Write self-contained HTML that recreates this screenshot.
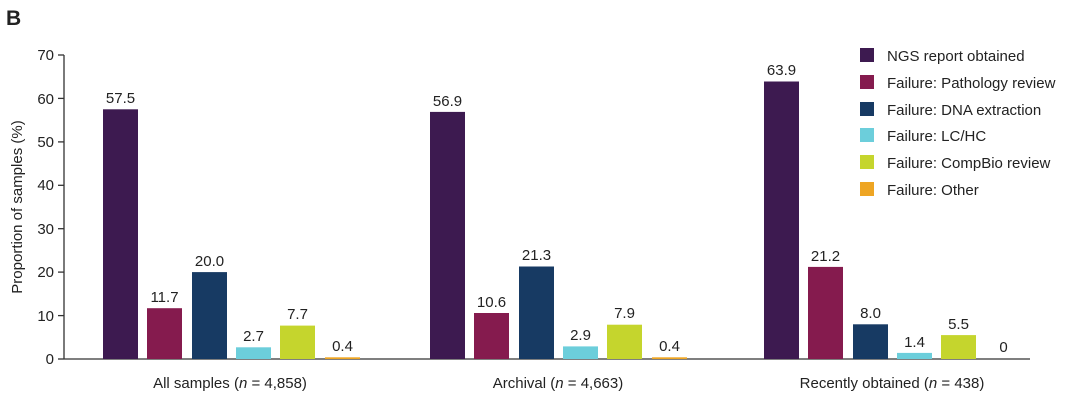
<!DOCTYPE html>
<html><head><meta charset="utf-8"><style>
body{margin:0;background:#fff;}
svg text{font-family:"Liberation Sans",Arial,sans-serif;fill:#222;}
</style></head><body>
<svg width="1080" height="400" viewBox="0 0 1080 400">
<text x="6" y="25" font-size="21" font-weight="bold">B</text>
<g stroke="#333" stroke-width="1.3">
<line x1="64" y1="55" x2="64" y2="359"/>
<line x1="64" y1="359" x2="1030" y2="359"/>
<line x1="58" y1="359" x2="64" y2="359"/>
<line x1="58" y1="315.6" x2="64" y2="315.6"/>
<line x1="58" y1="272.1" x2="64" y2="272.1"/>
<line x1="58" y1="228.7" x2="64" y2="228.7"/>
<line x1="58" y1="185.3" x2="64" y2="185.3"/>
<line x1="58" y1="141.9" x2="64" y2="141.9"/>
<line x1="58" y1="98.4" x2="64" y2="98.4"/>
<line x1="58" y1="55" x2="64" y2="55"/>
</g>
<g font-size="15" text-anchor="end">
<text x="54" y="364">0</text><text x="54" y="321">10</text><text x="54" y="277">20</text><text x="54" y="234">30</text><text x="54" y="190">40</text><text x="54" y="147">50</text><text x="54" y="104">60</text><text x="54" y="60">70</text>
</g>
<text transform="translate(22,207) rotate(-90)" font-size="15" text-anchor="middle">Proportion of samples (%)</text>
<g>
<rect x="103" y="109.3" width="35" height="249.7" fill="#3d1a50"/>
<rect x="147" y="308.2" width="35" height="50.8" fill="#851b4e"/>
<rect x="192" y="272.1" width="35" height="86.9" fill="#173a63"/>
<rect x="236" y="347.3" width="35" height="11.7" fill="#6ccedb"/>
<rect x="280" y="325.6" width="35" height="33.4" fill="#c5d52d"/>
<rect x="325" y="357.3" width="35" height="1.7" fill="#eea523"/>
<rect x="430" y="111.9" width="35" height="247.1" fill="#3d1a50"/>
<rect x="474" y="313.0" width="35" height="46.0" fill="#851b4e"/>
<rect x="519" y="266.5" width="35" height="92.5" fill="#173a63"/>
<rect x="563" y="346.4" width="35" height="12.6" fill="#6ccedb"/>
<rect x="607" y="324.7" width="35" height="34.3" fill="#c5d52d"/>
<rect x="652" y="357.3" width="35" height="1.7" fill="#eea523"/>
<rect x="764" y="81.5" width="35" height="277.5" fill="#3d1a50"/>
<rect x="808" y="266.9" width="35" height="92.1" fill="#851b4e"/>
<rect x="853" y="324.3" width="35" height="34.7" fill="#173a63"/>
<rect x="897" y="352.9" width="35" height="6.1" fill="#6ccedb"/>
<rect x="941" y="335.1" width="35" height="23.9" fill="#c5d52d"/>
</g>
<g font-size="15" text-anchor="middle">
<text x="120.5" y="103">57.5</text>
<text x="164.5" y="302">11.7</text>
<text x="209.5" y="266">20.0</text>
<text x="253.5" y="341">2.7</text>
<text x="297.5" y="319">7.7</text>
<text x="342.5" y="351">0.4</text>
<text x="447.5" y="106">56.9</text>
<text x="491.5" y="307">10.6</text>
<text x="536.5" y="260">21.3</text>
<text x="580.5" y="340">2.9</text>
<text x="624.5" y="318">7.9</text>
<text x="669.5" y="351">0.4</text>
<text x="781.5" y="75">63.9</text>
<text x="825.5" y="261">21.2</text>
<text x="870.5" y="318">8.0</text>
<text x="914.5" y="347">1.4</text>
<text x="958.5" y="329">5.5</text>
<text x="1003.5" y="352">0</text>
</g>
<g font-size="15" text-anchor="middle">
<text x="230" y="388">All samples (<tspan font-style="italic">n</tspan> = 4,858)</text>
<text x="558" y="388">Archival (<tspan font-style="italic">n</tspan> = 4,663)</text>
<text x="892" y="388">Recently obtained (<tspan font-style="italic">n</tspan> = 438)</text>
</g>
<g font-size="15">
<rect x="860" y="48" width="14" height="14" fill="#3d1a50"/><text x="887" y="61">NGS report obtained</text>
<rect x="860" y="75" width="14" height="14" fill="#851b4e"/><text x="887" y="88">Failure: Pathology review</text>
<rect x="860" y="102" width="14" height="14" fill="#173a63"/><text x="887" y="115">Failure: DNA extraction</text>
<rect x="860" y="128" width="14" height="14" fill="#6ccedb"/><text x="887" y="141">Failure: LC/HC</text>
<rect x="860" y="155" width="14" height="14" fill="#c5d52d"/><text x="887" y="168">Failure: CompBio review</text>
<rect x="860" y="182" width="14" height="14" fill="#eea523"/><text x="887" y="195">Failure: Other</text>
</g>
</svg>
</body></html>
